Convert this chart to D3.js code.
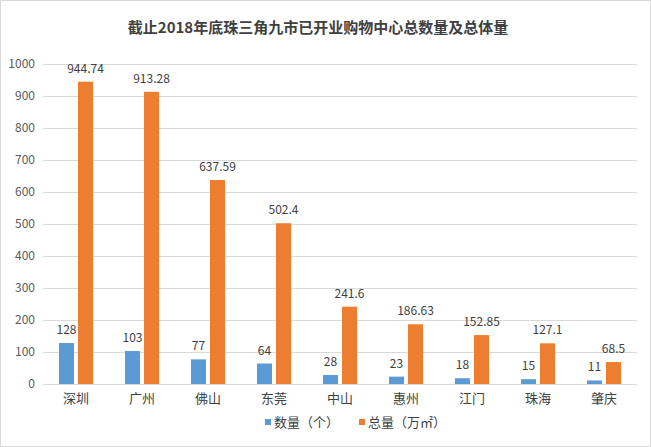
<!DOCTYPE html>
<html><head><meta charset="utf-8">
<script src="https://cdn.jsdelivr.net/npm/d3@7/dist/d3.min.js"></script>
<style>body{margin:0;background:#fff}svg{display:block}</style>
</head><body>
<script>
const title = "截止2018年底珠三角九市已开业购物中心总数量及总体量";
const categories = ["深圳","广州","佛山","东莞","中山","惠州","江门","珠海","肇庆"];
const countValues = [128,103,77,64,28,23,18,15,11];
const areaValues = [944.74,913.28,637.59,502.4,241.6,186.63,152.85,127.1,68.5];
const areaLabels = ["944.74","913.28","637.59","502.4","241.6","186.63","152.85","127.1","68.5"];
const yTicks = [0,100,200,300,400,500,600,700,800,900,1000];
const seriesNames = ["数量（个）","总量（万㎡）"];
const colors = ["#5B9BD5","#ED7D31"];

const W = 651, H = 447;
const font = "'Noto Sans CJK SC','Noto Sans',sans-serif";
const svg = d3.select("body").append("svg").attr("width",W).attr("height",H);
svg.append("rect").attr("x",0.5).attr("y",0.5).attr("width",W-1).attr("height",H-1)
  .attr("fill","#fff").attr("stroke","#d9d9d9");

const x = d3.scaleBand().domain(categories).range([43,637]);
const y = d3.scaleLinear().domain([0,1000]).range([384,64]);

svg.append("text").attr("x",318).attr("y",33).attr("text-anchor","middle")
  .attr("font-family",font).attr("font-size",15).attr("font-weight",600)
  .attr("fill","#404040").text(title);

// gridlines
svg.append("g").selectAll("line").data(yTicks).join("line")
  .attr("x1",43).attr("x2",637).attr("y1",d=>y(d)+0.5).attr("y2",d=>y(d)+0.5)
  .attr("stroke","#d9d9d9").attr("stroke-width",1);

// y axis labels
const yAxis = svg.append("g").attr("transform","translate(43,0)")
  .call(d3.axisLeft(y).tickValues(yTicks).tickFormat(d3.format("d")).tickSize(0).tickPadding(8));
yAxis.select(".domain").remove();
yAxis.selectAll("text").attr("font-family",font).attr("font-size",12).attr("fill","#595959");

// x axis labels
const xAxis = svg.append("g").attr("transform","translate(0,384)")
  .call(d3.axisBottom(x).tickSize(0).tickPadding(10));
xAxis.select(".domain").remove();
xAxis.selectAll("text").attr("font-family",font).attr("font-size",13).attr("fill","#404040");

const bw = 15, gap = 2;
const g = svg.append("g");
g.selectAll("rect.c").data(categories).join("rect").attr("class","c")
  .attr("x",(d)=>x(d)+x.bandwidth()/2-gap-bw).attr("width",bw)
  .attr("y",(d,i)=>y(countValues[i])).attr("height",(d,i)=>y(0)-y(countValues[i]))
  .attr("fill",colors[0]);
g.selectAll("rect.a").data(categories).join("rect").attr("class","a")
  .attr("x",(d)=>x(d)+x.bandwidth()/2+gap).attr("width",bw)
  .attr("y",(d,i)=>y(areaValues[i])).attr("height",(d,i)=>y(0)-y(areaValues[i]))
  .attr("fill",colors[1]);

g.selectAll("text.c").data(categories).join("text").attr("class","c")
  .attr("x",(d)=>x(d)+x.bandwidth()/2-gap-bw/2).attr("y",(d,i)=>y(countValues[i])-9)
  .attr("text-anchor","middle").attr("font-family",font).attr("font-size",12).attr("fill","#404040")
  .text((d,i)=>countValues[i]);
g.selectAll("text.a").data(categories).join("text").attr("class","a")
  .attr("x",(d)=>x(d)+x.bandwidth()/2+gap+bw/2).attr("y",(d,i)=>y(areaValues[i])-9)
  .attr("text-anchor","middle").attr("font-family",font).attr("font-size",12).attr("fill","#404040")
  .text((d,i)=>areaLabels[i]);

// legend
const legendX = [265,359];
const lg = svg.append("g");
seriesNames.forEach((n,i)=>{
  lg.append("rect").attr("x",legendX[i]).attr("y",419).attr("width",6).attr("height",6).attr("fill",colors[i]);
  lg.append("text").attr("x",legendX[i]+9).attr("y",427).attr("font-family",font).attr("font-size",13)
    .attr("fill","#404040").text(n);
});
</script>
</body></html>
